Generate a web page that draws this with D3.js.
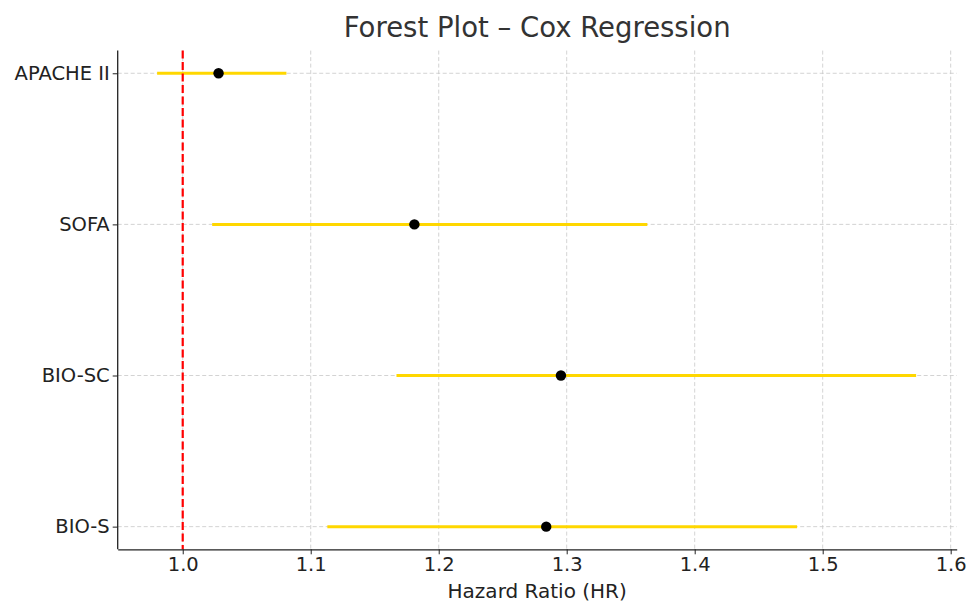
<!DOCTYPE html>
<html><head><meta charset="utf-8">
<script src="https://cdn.jsdelivr.net/npm/d3@7"></script>
<style>body{margin:0;background:#fff;} text{font-family:"DejaVu Sans",sans-serif;}</style>
</head><body>
<svg id="c" width="968" height="601"></svg>
<script>
const categories = ["APACHE II", "SOFA", "BIO-SC", "BIO-S"];
const hr = [1.028, 1.181, 1.2955, 1.284];
const ciLow = [0.980, 1.023, 1.167, 1.113];
const ciHigh = [1.081, 1.363, 1.573, 1.480];
const xTicks = [1.0, 1.1, 1.2, 1.3, 1.4, 1.5, 1.6];
const refLine = 1.0;

const svg = d3.select("#c");
const L = 117.7, R = 956.7, T = 50.6, B = 549.3;
const x = d3.scaleLinear().domain([0.9492, 1.6047]).range([L, R]);
const y = d3.scaleLinear().domain([-0.15, 3.15]).range([B, T]);
const yPos = i => y(categories.length - 1 - i);

// grid
const g = svg.append("g");
g.selectAll(".vg").data(xTicks).join("line")
  .attr("x1", d => x(d)).attr("x2", d => x(d)).attr("y1", T).attr("y2", B)
  .attr("stroke", "#c8c8c8").attr("stroke-width", 0.8).attr("stroke-dasharray", "4,2.5");
g.selectAll(".hg").data(categories).join("line")
  .attr("x1", L).attr("x2", R).attr("y1", (d, i) => yPos(i)).attr("y2", (d, i) => yPos(i))
  .attr("stroke", "#c8c8c8").attr("stroke-width", 0.8).attr("stroke-dasharray", "4,2.5");

// CI lines
svg.selectAll(".ci").data(categories).join("line")
  .attr("x1", (d, i) => x(ciLow[i])).attr("x2", (d, i) => x(ciHigh[i]))
  .attr("y1", (d, i) => yPos(i)).attr("y2", (d, i) => yPos(i))
  .attr("stroke", "#FFD700").attr("stroke-width", 3);

// reference line
svg.append("line").attr("x1", x(refLine)).attr("x2", x(refLine)).attr("y1", T).attr("y2", B)
  .attr("stroke", "#ff0000").attr("stroke-width", 2.2).attr("stroke-dasharray", "8,3.5");

// points
svg.selectAll(".pt").data(categories).join("circle")
  .attr("cx", (d, i) => x(hr[i])).attr("cy", (d, i) => yPos(i)).attr("r", 5.2).attr("fill", "#000");

// axes
const xAxis = d3.axisBottom(x).tickValues(xTicks).tickFormat(d3.format(".1f")).tickSize(5).tickPadding(3).tickSizeOuter(0);
const xa = svg.append("g").attr("transform", `translate(0,${B})`).call(xAxis);
xa.select(".domain").attr("stroke", "#222").attr("stroke-width", 1.3);
xa.selectAll(".tick line").attr("stroke", "#222").attr("stroke-width", 1);
xa.selectAll("text").attr("font-size", 19.5).attr("fill", "#222").attr("font-family", "DejaVu Sans");

const yScaleBand = d3.scaleOrdinal().domain(categories).range(categories.map((d, i) => yPos(i)));
const yAxis = d3.axisLeft(yScaleBand).tickSize(5).tickPadding(3).tickSizeOuter(0);
const ya = svg.append("g").attr("transform", `translate(${L},0)`).call(yAxis);
ya.select(".domain").attr("d", `M0,${T}V${B}`).attr("stroke", "#222").attr("stroke-width", 1.3);
ya.selectAll(".tick line").attr("stroke", "#222").attr("stroke-width", 1);
ya.selectAll("text").attr("font-size", 19.5).attr("fill", "#222").attr("font-family", "DejaVu Sans");

// labels
svg.append("text").attr("x", (L + R) / 2).attr("y", 37).attr("text-anchor", "middle")
  .attr("font-size", 27.5).attr("fill", "#333").text("Forest Plot – Cox Regression");
svg.append("text").attr("x", (L + R) / 2).attr("y", 597.5).attr("text-anchor", "middle")
  .attr("font-size", 20).attr("fill", "#222").text("Hazard Ratio (HR)");
</script>
</body></html>
